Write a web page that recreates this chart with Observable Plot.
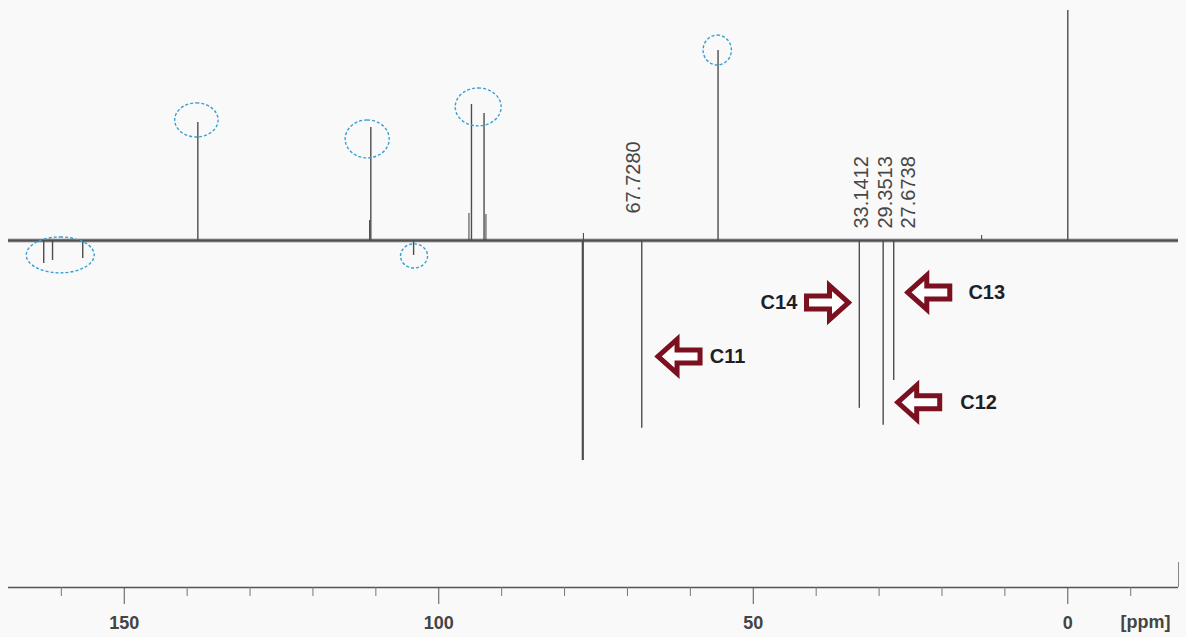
<!DOCTYPE html>
<html>
<head>
<meta charset="utf-8">
<script src="https://cdn.jsdelivr.net/npm/d3@7"></script>
<script src="https://cdn.jsdelivr.net/npm/@observablehq/plot@0.6"></script>
<style>
  html, body { margin: 0; padding: 0; background: #f8f9f8; }
  #chart svg { display: block; }
  g[aria-label="x-axis tick label"] text { font-weight: 700; }
</style>
</head>
<body>
<div id="chart"></div>
<script>
// 13C DEPT spectrum: upward CH/CH3 signals, downward CH2 signals.

// Upward signals (ppm, relative intensity)
const upShifts  = [0, 55.6, 92.8, 94.8, 110.8, 138.3];
const upHeights = [100, 82.6, 55.2, 59.1, 49.1, 51.3];

// Small signals close to the baseline
const smallShifts  = [111.0, 95.2, 92.5, 77.0, 13.7];
const smallHeights = [8.7, 11.7, 11.3, 3.0, 2.2];

// Downward signals
const downShifts  = [162.8, 161.4, 156.6, 104.0, 77.1];
const downDepths  = [-10.0, -8.7, -7.8, -6.5, -95.7];

// Annotated CH2 signals, with their printed shift values
const shiftLabels  = ["67.7280", "33.1412", "29.3513", "27.6738"];
const shiftDepths  = [-81.7, -73.0, -80.4, -60.9];
const shiftLabelDx = [-8, 2, 2, 15];
const shiftLabelLevel = [11.7, 5.2, 5.2, 5.2];

// Carbon assignments: arrow anchor, text anchor
const carbonNames  = ["C11", "C14", "C13", "C12"];
const arrowPpm     = [61.8, 38.2, 22.1, 23.7];
const arrowLevel   = [-50.4, -27.0, -22.6, -70.4];
const arrowTurn    = [0, 180, 0, 0];
const carbonPpm    = [56.9, 43.0, 15.8, 17.1];
const carbonAnchor = ["start", "end", "start", "start"];

// Circled groups (ppm span, intensity span)
const circlePpm1   = [165.5, 141.9, 114.8, 97.3, 57.9, 106.0];
const circlePpm2   = [154.7, 135.0, 107.8, 90.0, 53.4, 101.7];
const circleLevel1 = [1.3, 59.6, 52.2, 66.1, 89.1, -1.7];
const circleLevel2 = [-14.3, 44.8, 35.7, 49.6, 76.1, -12.2];

const majorTicks = [150, 100, 50, 0];
const minorTicks = [160, 140, 130, 120, 110, 90, 80, 70, 60, 40, 30, 20, 10, -10];

const ppmDomain = [168.4, -17.6];
const levelDomain = [-150.9, 100];

const ink = "#4d4d4d";
const arrowRed = "#7a1020";
const circleBlue = "#3a9fd2";

const up = upShifts.map((ppm, i) => ({ppm, level: upHeights[i], w: 1.4}));
const small = smallShifts.map((ppm, i) => ({ppm, level: smallHeights[i], w: 1.1}));
const down = downShifts.map((ppm, i) => ({ppm, level: downDepths[i], w: ppm === 77.1 ? 2.2 : 1.4}));
const labelled = shiftLabels.map((s, i) => ({
  ppm: parseFloat(s), text: s, level: shiftDepths[i], w: 1.4,
  dx: shiftLabelDx[i], labelLevel: shiftLabelLevel[i]
}));
const carbons = carbonNames.map((name, i) => ({
  name, ppm: arrowPpm[i], level: arrowLevel[i], turn: arrowTurn[i],
  textPpm: carbonPpm[i], anchor: carbonAnchor[i]
}));
const circles = circlePpm1.map((p, i) => ({
  x1: p, x2: circlePpm2[i], y1: circleLevel1[i], y2: circleLevel2[i]
}));

// Outlined block arrow pointing left; turned by the dot's rotate channel
const blockArrow = {
  draw(ctx) {
    ctx.moveTo(-21, 0);
    ctx.lineTo(-2, -17);
    ctx.lineTo(-2, -6.5);
    ctx.lineTo(21, -6.5);
    ctx.lineTo(21, 6.5);
    ctx.lineTo(-2, 6.5);
    ctx.lineTo(-2, 17);
    ctx.closePath();
  }
};

const shiftLabelMarks = labelled.map(d => Plot.text([d], {
  x: "ppm", y: "labelLevel", text: "text", rotate: -90, textAnchor: "start",
  dx: d.dx, fontSize: 20, fill: "#474747"
}));

const carbonLabelMarks = carbons.map(d => Plot.text([d], {
  x: "textPpm", y: "level", text: "name", textAnchor: d.anchor,
  fontSize: 20, fontWeight: "bold", fill: "#1f1f29"
}));

const chart = Plot.plot({
  width: 1186,
  height: 637,
  marginLeft: 8,
  marginRight: 8,
  marginTop: 10,
  marginBottom: 50,
  style: {background: "#f8f9f8", fontFamily: "'Liberation Sans', Arial, sans-serif"},
  x: {domain: ppmDomain},
  y: {domain: levelDomain, axis: null},
  marks: [
    // noisy baseline
    Plot.ruleY([0], {stroke: "#8a8a8a", strokeWidth: 5, strokeOpacity: 0.35}),
    Plot.ruleY([0], {stroke: "#505050", strokeWidth: 2.4}),
    // signals
    Plot.ruleX(up, {x: "ppm", y1: 0, y2: "level", stroke: ink, strokeWidth: "w"}),
    Plot.ruleX(small, {x: "ppm", y1: 0, y2: "level", stroke: ink, strokeWidth: "w"}),
    Plot.ruleX(down, {x: "ppm", y1: 0, y2: "level", stroke: ink, strokeWidth: "w"}),
    Plot.ruleX(labelled, {x: "ppm", y1: 0, y2: "level", stroke: ink, strokeWidth: "w"}),
    // shift values
    ...shiftLabelMarks,
    // circled groups
    Plot.rect(circles, {
      x1: "x1", x2: "x2", y1: "y1", y2: "y2", rx: 1000, ry: 1000,
      fill: "none", stroke: circleBlue, strokeWidth: 1.4, strokeDasharray: "3,2"
    }),
    // assignment arrows and names
    Plot.dot(carbons, {
      x: "ppm", y: "level", symbol: blockArrow, r: 20, rotate: "turn",
      fill: "#ffffff", stroke: arrowRed, strokeWidth: 5, strokeLinejoin: "miter"
    }),
    ...carbonLabelMarks,
    // axis line, frame corner and ticks
    Plot.ruleY([levelDomain[0]], {stroke: "#555", strokeWidth: 1.5}),
    Plot.ruleX([ppmDomain[1]], {y1: levelDomain[0], y2: -140, stroke: "#888", strokeWidth: 1}),
    Plot.axisX({
      ticks: majorTicks, tickSize: 17, tickPadding: 12, tickFormat: d => String(d),
      fontSize: 18, fill: "#444", stroke: "#555", label: null
    }),
    Plot.axisX({
      ticks: minorTicks, tickSize: 9, tickFormat: () => "", stroke: "#777", label: null
    }),
    Plot.text(["[ppm]"], {
      frameAnchor: "bottom-right", dx: -8, dy: 40, text: d => d, textAnchor: "end",
      fontSize: 18, fill: "#444", fontWeight: 600
    })
  ]
});

document.getElementById("chart").appendChild(chart);
</script>
</body>
</html>
